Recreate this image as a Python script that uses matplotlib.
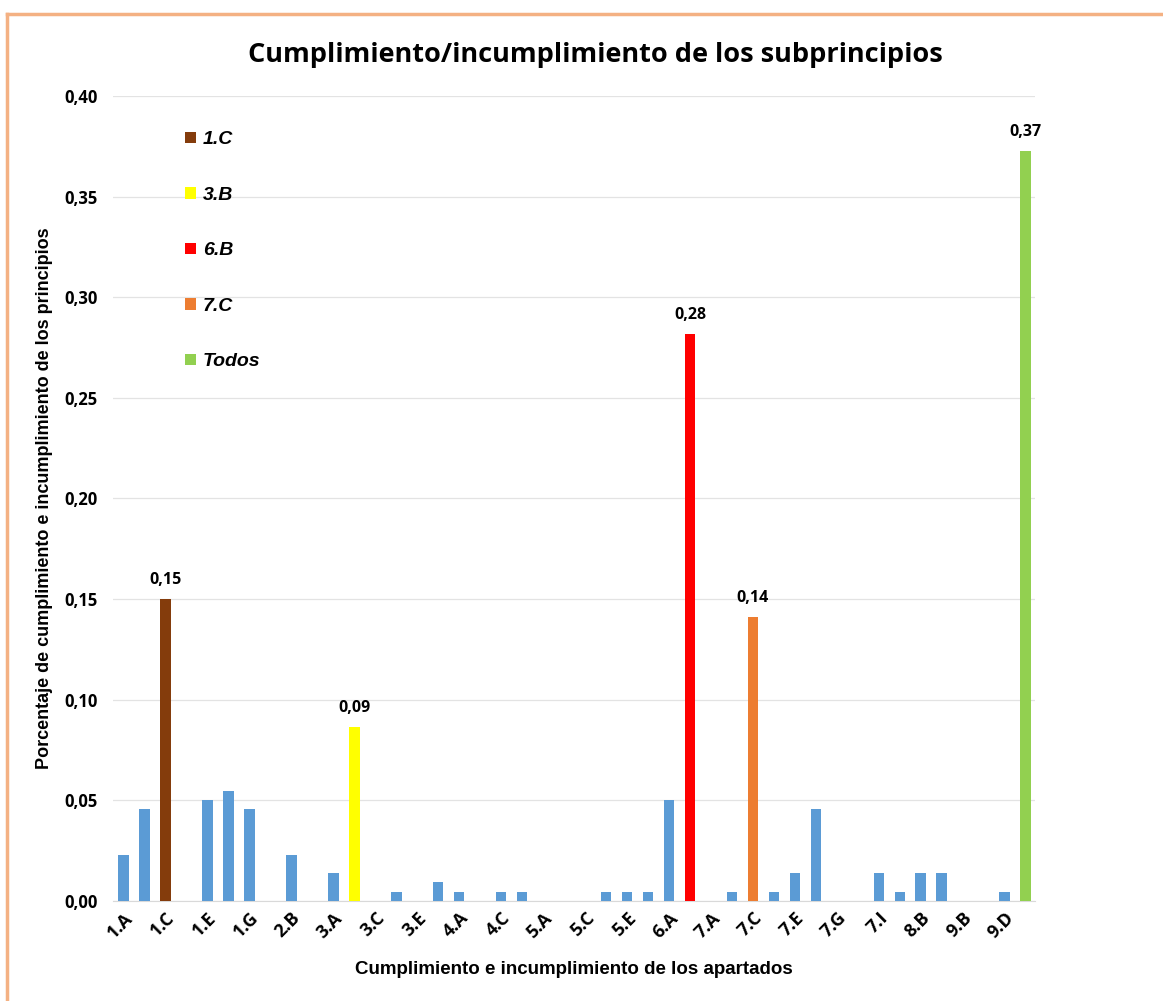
import numpy as np
import matplotlib.pyplot as plt
from matplotlib.lines import Line2D
from matplotlib.ticker import FuncFormatter, MultipleLocator

# Datos
# ----------------------------
apartados = ["1.A", "1.B", "1.C", "1.D", "1.E", "1.F", "1.G", "2.A", "2.B", "2.C",
             "3.A", "3.B", "3.C", "3.D", "3.E", "3.F", "4.A", "4.B", "4.C", "4.D",
             "5.A", "5.B", "5.C", "5.D", "5.E", "5.F", "6.A", "6.B", "7.A", "7.B",
             "7.C", "7.D", "7.E", "7.F", "7.G", "7.H", "7.I", "8.A", "8.B", "9.A",
             "9.B", "9.C", "9.D", "Todos"]
valores = [0.0227, 0.0455, 0.15, 0.0, 0.05, 0.0545, 0.0455, 0.0, 0.0227, 0.0,
           0.0136, 0.0864, 0.0, 0.0045, 0.0, 0.0091, 0.0045, 0.0, 0.0045, 0.0045,
           0.0, 0.0, 0.0, 0.0045, 0.0045, 0.0045, 0.05, 0.2818, 0.0, 0.0045,
           0.1409, 0.0045, 0.0136, 0.0455, 0.0, 0.0, 0.0136, 0.0045, 0.0136, 0.0136,
           0.0, 0.0, 0.0045, 0.3727]
destacados = {"1.C": "#843C0C", "3.B": "#FFFF00", "6.B": "#FF0000",
              "7.C": "#ED7D31", "Todos": "#92D050"}
azul = "#5B9BD5"
# ----------------------------

x = np.arange(len(apartados))
colores = [destacados.get(a, azul) for a in apartados]

fig = plt.figure(figsize=(11.63, 10.01), dpi=100)
ax = fig.add_axes([0.0972, 0.1002, 0.7928, 0.8038])

barras = ax.bar(x, valores, width=0.5, color=colores, zorder=3)

# Etiquetas de datos
for i, a in enumerate(apartados):
    if a in destacados:
        ax.annotate(f"{valores[i]:.2f}".replace(".", ","), (x[i], valores[i]),
                    xytext=(0, 8), textcoords="offset points", ha="center", va="bottom",
                    fontsize=11.5, fontweight="bold", family="Open Sans")

# Ejes
ax.set_xlim(-0.5, 43.45)
ax.set_ylim(0, 0.40)
ax.yaxis.set_major_locator(MultipleLocator(0.05))
ax.yaxis.set_major_formatter(FuncFormatter(lambda v, p: f"{v:.2f}".replace(".", ",")))
ax.set_xticks(x[::2])
ax.set_xticklabels(apartados[::2], rotation=45, ha="right", rotation_mode="anchor",
                   fontsize=13, fontweight="bold", family="Open Sans")
for t in ax.get_yticklabels():
    t.set_fontsize(12)
    t.set_fontweight("bold")
    t.set_family("Open Sans")
ax.tick_params(axis="both", length=0)
ax.tick_params(axis="y", pad=11)
ax.tick_params(axis="x", pad=6)

ax.spines[["top", "right", "left"]].set_visible(False)
ax.spines["bottom"].set_color("#D9D9D9")
ax.grid(axis="y", color="#E3E3E3", linewidth=0.9, zorder=0)
ax.set_axisbelow(True)

ax.set_xlabel("Cumplimiento e incumplimiento de los apartados", fontsize=13.5,
              fontweight="bold", family="Liberation Sans", labelpad=14)
ax.set_ylabel("Porcentaje de cumplimiento e incumplimiento de los principios", fontsize=13,
              fontweight="bold", family="Liberation Sans", labelpad=8)

fig.suptitle("Cumplimiento/incumplimiento de los subprincipios", x=0.512, y=0.958,
             fontsize=19.5, fontweight="bold", family="Open Sans")

# Leyenda
idx = [apartados.index(a) for a in destacados]
ax.legend([barras[i] for i in idx], list(destacados), loc="upper left",
          bbox_to_anchor=(0.078, 0.956), frameon=False, borderpad=0, borderaxespad=0,
          handlelength=0.55, handleheight=0.55, handletextpad=0.36, labelspacing=1.98,
          prop={"family": "Liberation Sans", "weight": "bold", "style": "italic", "size": 14})

# Marco
marco = "#F4B183"
fig.add_artist(Line2D([7 / 1163, 1], [1 - 14 / 1001, 1 - 14 / 1001], color=marco, lw=2.5))
fig.add_artist(Line2D([7 / 1163, 7 / 1163], [0, 1 - 14 / 1001], color=marco, lw=2.5))

fig.savefig("out.png", dpi=100)
